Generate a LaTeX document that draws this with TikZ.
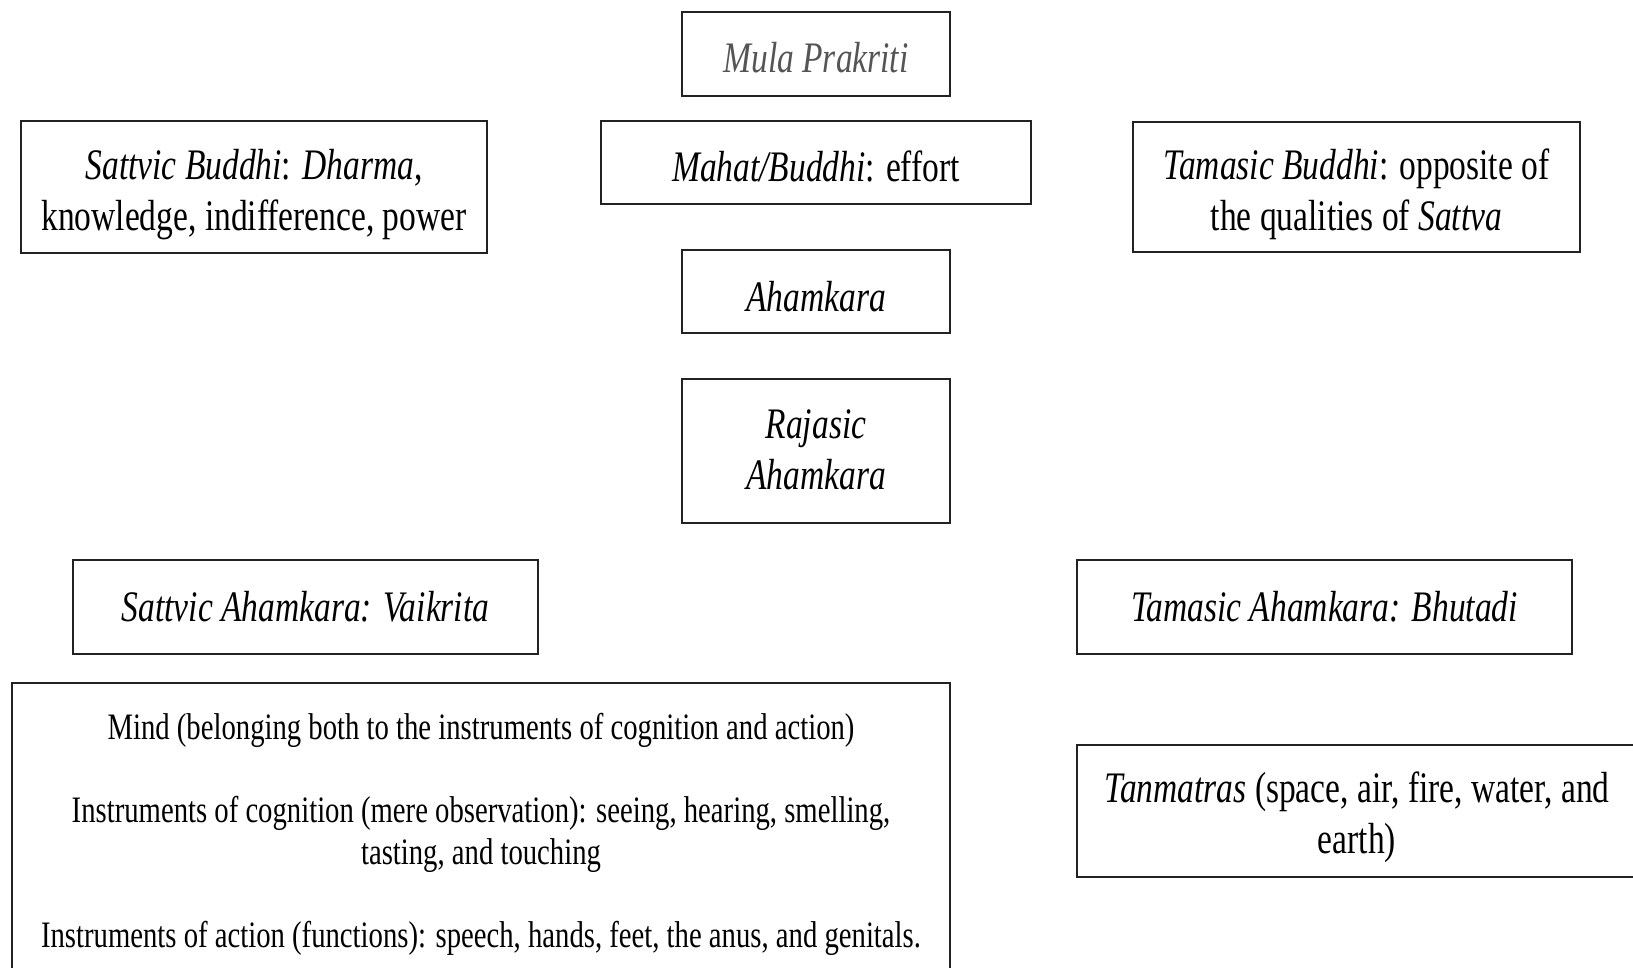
\documentclass[tikz,border=0pt]{standalone}
\usepackage{fontspec}
\usepackage{graphicx}
\setmainfont{Liberation Serif}
\definecolor{edge}{HTML}{222222}
\definecolor{greytext}{HTML}{555555}
\newcommand\fontA{\fontsize{33.5}{38.5}\selectfont}
\newcommand\fontB{\fontsize{28.7}{32.3}\selectfont}
\newcommand\vtxt[2][8pt]{\raisebox{-#1}[\height][\depth]{\scalebox{1}[1.3]{\begin{tabular}{@{}c@{}}#2\end{tabular}}}}
\begin{document}
\begin{tikzpicture}[x=1pt,y=-1pt,
  box/.style={draw=edge, line width=1.8pt, inner sep=0pt, align=center, font=\fontA},
  plain/.style={inner sep=0pt, align=center, font=\fontB}]
\useasboundingbox (0,0) rectangle (1633,968);
\clip (0,0) rectangle (1633,968);
\fill[white] (0,0) rectangle (1633,968);

\node[box, minimum width=268pt, minimum height=84pt, text=greytext] (mula) at (816,54) {\vtxt{\itshape Mula Prakriti}};
\node[box, minimum width=430pt, minimum height=83pt] (mahat) at (816,162.5) {\vtxt[9pt]{\textit{Mahat/Buddhi}: effort}};
\node[box, minimum width=466pt, minimum height=132pt] (sbuddhi) at (254,187) {\vtxt{\textit{Sattvic Buddhi}: \textit{Dharma},\\ knowledge, indifference, power}};
\node[box, minimum width=447pt, minimum height=130pt] (tbuddhi) at (1356.5,187) {\vtxt{\textit{Tamasic Buddhi}: opposite of\\ the qualities of \textit{Sattva}}};
\node[box, minimum width=268pt, minimum height=83pt] (aham) at (816,291.5) {\vtxt[10pt]{\itshape Ahamkara}};
\node[box, minimum width=268pt, minimum height=144pt] (raj) at (816,451) {\vtxt[3pt]{\itshape Rajasic\\ \itshape Ahamkara}};
\node[box, minimum width=465pt, minimum height=94pt] (sahamk) at (305.5,607) {\vtxt[4pt]{\itshape Sattvic Ahamkara: Vaikrita}};
\node[box, minimum width=495pt, minimum height=94pt] (tahamk) at (1324.5,607) {\vtxt[4pt]{\itshape Tamasic Ahamkara: Bhutadi}};
\node[box, minimum width=560pt, minimum height=132pt] (tanm) at (1357,811) {\vtxt[7pt]{\textit{Tanmatras} (space, air, fire, water, and\\ earth)}};

\node[box, minimum width=938pt, minimum height=320pt] (big) at (481,843) {};
\node[plain] (mind) at (481,731) {\vtxt[0pt]{Mind (belonging both to the instruments of cognition and action)}};
\node[plain] (cog) at (481,835) {\vtxt[0pt]{Instruments of cognition (mere observation): seeing, hearing, smelling,\\ tasting, and touching}};
\node[plain] (act) at (481,939) {\vtxt[0pt]{Instruments of action (functions): speech, hands, feet, the anus, and genitals.}};
\end{tikzpicture}
\end{document}
